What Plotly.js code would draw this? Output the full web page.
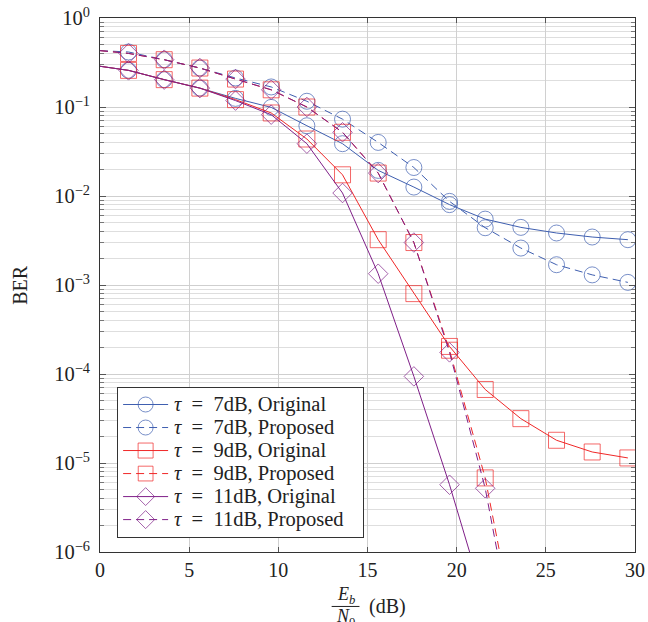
<!DOCTYPE html>
<html>
<head>
<meta charset="utf-8">
<script src="https://cdn.plot.ly/plotly-3.0.1.min.js"></script>
<style>html,body{margin:0;padding:0;background:#fff;}#chart{width:648px;height:622px;}</style>
</head>
<body>
<div id="chart"></div>
<script>
// ---- data ----
const snrDb = [1.6, 3.6, 5.6, 7.6, 9.6, 11.6, 13.6, 15.6, 17.6, 19.6, 21.6, 23.6, 25.6, 27.6, 29.6];
const startSnr = 0;
const startOriginal = 0.287;   // value where the solid curves enter at 0 dB
const startProposed = 0.43;    // value where the dashed curves enter at 0 dB

const ber7Orig  = [0.258, 0.203, 0.163, 0.125, 0.099, 0.0616, 0.0387, 0.0194, 0.0126, 0.0080, 0.0055, 0.00444, 0.00384, 0.00346, 0.00323];
const ber7Prop  = [0.415, 0.34, 0.274, 0.212, 0.168, 0.116, 0.073, 0.040, 0.0209, 0.0087, 0.0044, 0.0026, 0.00169, 0.0013, 0.00107];
const ber9Orig  = [0.258, 0.203, 0.163, 0.121, 0.0857, 0.0437, 0.0173, 0.00323, 0.0008, 2.04e-4, 6.7e-5, 3.15e-5, 1.8e-5, 1.33e-5, 1.14e-5];
const ber9Prop  = [0.40, 0.34, 0.274, 0.206, 0.156, 0.10, 0.052, 0.0181, 0.0030, 1.85e-4, 6.8e-6, 6e-8];
const ber11Orig = [0.258, 0.203, 0.163, 0.118, 0.082, 0.0387, 0.0108, 0.00134, 9.4e-5, 5.7e-6, 2.6e-7];
const ber11Prop = [0.40, 0.34, 0.274, 0.206, 0.156, 0.10, 0.052, 0.0181, 0.0030, 1.75e-4, 5.2e-6, 4e-8];

const seriesNames = [
  '<i>τ</i>\u2002=\u20027dB, Original', '<i>τ</i>\u2002=\u20027dB, Proposed',
  '<i>τ</i>\u2002=\u20029dB, Original', '<i>τ</i>\u2002=\u20029dB, Proposed',
  '<i>τ</i>\u2002=\u200211dB, Original', '<i>τ</i>\u2002=\u200211dB, Proposed'
];
const yTickVals = [1e-6, 1e-5, 1e-4, 1e-3, 1e-2, 1e-1, 1];
const yExponents = ['−6', '−5', '−4', '−3', '−2', '−1', '0'];
const xTickVals = [0, 5, 10, 15, 20, 25, 30];

// ---- styling ----
const BLUE = '#3f5fb0', RED = '#f02828', PURPLE = '#7f1f88';
const FONT = '"Liberation Serif", "DejaVu Serif", serif';
const DASH = '8px,5px';
const yTickText = yExponents.map(e => '10<sup style="font-size:88%">' + e + '</sup>');

function mk(vals, start, color, dash, symbol, size) {
  const n = vals.length;
  const x = [startSnr].concat(snrDb.slice(0, n));
  const y = [start].concat(vals);
  const sizes = [0].concat(vals.map(() => size));
  return {
    type: 'scatter', mode: 'lines+markers',
    name: '\u00a0'.repeat(48),   // legend row keeps the sample; its text is drawn as annotations below
    x: x, y: y,
    line: {color: color, width: 1, dash: dash},
    marker: {symbol: symbol, size: sizes, color: color, line: {color: color, width: 1}},
    cliponaxis: true
  };
}

const traces = [
  mk(ber7Orig,  startOriginal, BLUE,   'solid', 'circle-open', 16),
  mk(ber7Prop,  startProposed, BLUE,   DASH,    'circle-open', 16),
  mk(ber9Orig,  startOriginal, RED,    'solid', 'square-open', 16),
  mk(ber9Prop,  startProposed, RED,    DASH,    'square-open', 16),
  mk(ber11Orig, startOriginal, PURPLE, 'solid', 'diamond-open', 15),
  mk(ber11Prop, startProposed, PURPLE, DASH,    'diamond-open', 15)
];

const minorY = [];
for (let e = -6; e < 0; e++) for (let m = 2; m <= 9; m++) minorY.push(m * Math.pow(10, e));

// plot-area geometry (px) used to place the legend labels
const PLOT_TOP = 18, PLOT_H = 534, PLOT_L = 100, PLOT_W = 534;
const LEG_TOP = 387, LEG_ROW = 23.02, LEG_FIRST = 17.5, LEG_TEXT_X = 172;
const legendLabels = seriesNames.map((t, i) => ({
  xref: 'paper', yref: 'paper', showarrow: false, xanchor: 'left', yanchor: 'middle',
  x: (LEG_TEXT_X - PLOT_L) / PLOT_W,
  y: (PLOT_TOP + PLOT_H - (LEG_TOP + LEG_FIRST + LEG_ROW * i)) / PLOT_H,
  text: t, font: {family: FONT, size: 20.5, color: '#222'}
}));

const layout = {
  width: 648, height: 622,
  margin: {l: 100, r: 13, t: 18, b: 70},
  paper_bgcolor: '#fff', plot_bgcolor: '#fff',
  font: {family: FONT, size: 20, color: '#222'},
  showlegend: true,
  legend: {
    x: 0.032, y: 0.309, xanchor: 'left', yanchor: 'top',
    bgcolor: '#fff', bordercolor: '#333', borderwidth: 1,
    font: {family: FONT, size: 15.4, color: '#222'},
    itemwidth: 45, tracegroupgap: 0
  },
  xaxis: {
    range: [0, 30], tickmode: 'array', tickvals: xTickVals,
    showgrid: true, gridcolor: '#d0d0d0', gridwidth: 1,
    zeroline: false, showline: true, linecolor: '#333', linewidth: 1, mirror: 'allticks',
    ticks: 'inside', ticklen: 5, tickcolor: '#555',
    tickfont: {family: FONT, size: 20, color: '#222'}
  },
  yaxis: {
    type: 'log', range: [-6, 0],
    tickmode: 'array', tickvals: yTickVals, ticktext: yTickText,
    showgrid: true, gridcolor: '#cfcfcf', gridwidth: 1,
    zeroline: false, showline: true, linecolor: '#333', linewidth: 1, mirror: 'allticks',
    ticks: 'inside', ticklen: 6, tickcolor: '#555', ticklabelstandoff: 5,
    tickfont: {family: FONT, size: 20.5, color: '#222'},
    minor: {tickmode: 'array', tickvals: minorY, showgrid: true, gridcolor: '#dedede', gridwidth: 1,
            ticks: 'inside', ticklen: 4, tickcolor: '#777'}
  },
  annotations: [
    {xref: 'paper', yref: 'paper', x: -0.15, y: 0.5, text: 'BER', textangle: -90, showarrow: false,
     font: {family: FONT, size: 20, color: '#222'}, xanchor: 'center', yanchor: 'middle'},
    {xref: 'paper', yref: 'paper', x: 0.459, y: -0.082, text: '<i>E</i><sub><i>b</i></sub>', showarrow: false,
     font: {family: FONT, size: 18, color: '#222'}, xanchor: 'center', yanchor: 'middle'},
    {xref: 'paper', yref: 'paper', x: 0.459, y: -0.123, text: '<i>N</i><sub>0</sub>', showarrow: false,
     font: {family: FONT, size: 18, color: '#222'}, xanchor: 'center', yanchor: 'middle'},
    {xref: 'paper', yref: 'paper', x: 0.538, y: -0.102, text: '(dB)', showarrow: false,
     font: {family: FONT, size: 20, color: '#222'}, xanchor: 'center', yanchor: 'middle'}
  ].concat(legendLabels),
  shapes: [
    {type: 'line', xref: 'paper', yref: 'paper', x0: 0.433, x1: 0.485, y0: -0.102, y1: -0.102,
     line: {color: '#222', width: 1}}
  ]
};

Plotly.newPlot('chart', traces, layout, {displayModeBar: false, staticPlot: true});
</script>
</body>
</html>
